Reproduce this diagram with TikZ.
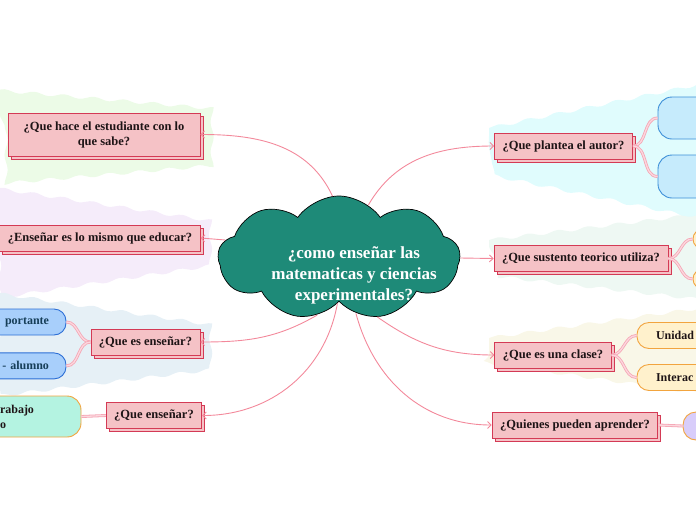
\documentclass[tikz,border=0pt]{standalone}
\usepackage{fontspec}
\setmainfont{Liberation Serif}
\usetikzlibrary{arrows.meta,positioning,calc,shapes.symbols,shadows,decorations.pathmorphing}

\definecolor{cloudteal}{RGB}{30,138,120}
\definecolor{topicfill}{RGB}{245,194,198}
\definecolor{topicline}{RGB}{212,58,85}
\definecolor{linkpink}{RGB}{243,137,155}
\definecolor{subpink}{RGB}{245,165,180}
\definecolor{subpinklt}{RGB}{252,215,222}
\definecolor{bggreen}{RGB}{236,251,231}
\definecolor{bglav}{RGB}{245,236,250}
\definecolor{bgblue}{RGB}{230,240,246}
\definecolor{bgcyan}{RGB}{224,252,253}
\definecolor{bgmint}{RGB}{238,248,243}
\definecolor{bgcream}{RGB}{249,247,232}
\definecolor{bluefill}{RGB}{168,207,251}
\definecolor{blueline}{RGB}{45,111,214}
\definecolor{bluetext}{RGB}{22,62,88}
\definecolor{mintfill}{RGB}{180,243,225}
\definecolor{orangeline}{RGB}{242,164,62}
\definecolor{skyfill}{RGB}{198,235,252}
\definecolor{skyline}{RGB}{61,143,216}
\definecolor{creamfill}{RGB}{255,241,204}
\definecolor{lavfill}{RGB}{216,205,250}
\definecolor{darktext}{RGB}{30,20,22}

\begin{document}
\begin{tikzpicture}[
  x=1pt, y=1pt,
  font=\bfseries\fontsize{12.5}{15}\selectfont,
  link/.style={draw=linkpink, line width=0.9pt, -{Straight Barb[length=3.5pt,width=7pt]}},
  sublink/.style={draw=subpink, double=subpinklt, double distance=1.3pt, line width=0.8pt},
  topic/.style={
    draw=topicline, fill=topicfill, line width=0.9pt, align=center,
    text=darktext, inner xsep=8pt, inner ysep=0pt, minimum height=26pt,
    copy shadow={shadow xshift=3pt, shadow yshift=-3pt}
  },
  subbox/.style={
    draw, line width=0.9pt, rounded corners=12pt, inner xsep=20pt,
    inner ysep=0pt, minimum height=26pt, text=darktext,
    font=\bfseries\fontsize{12}{15}\selectfont
  },
  wedge/.style={decorate, decoration={snake, amplitude=1.6pt, segment length=30pt}}
]
\useasboundingbox (0,0) rectangle (696,-520);
\clip (0,0) rectangle (696,-520);

% Background bands
\fill[bggreen, wedge] (-5,-90) -- (206,-108) -- (206,-162) -- (-5,-180) -- cycle;
\fill[bglav, wedge] (-5,-188) -- (206,-220) -- (206,-258) -- (-5,-290) -- cycle;
\fill[bgblue, wedge] (-5,-293) -- (206,-324) -- (206,-364) -- (-5,-390) -- cycle;
\fill[bgcyan, wedge] (489,-128) -- (701,-84) -- (701,-210) -- (489,-166) -- cycle;
\fill[bgmint, wedge] (489,-240) -- (701,-214) -- (701,-300) -- (489,-276) -- cycle;
\fill[bgcream, wedge] (489,-338) -- (701,-308) -- (701,-402) -- (489,-372) -- cycle;

% Central cloud
\node[cloud, cloud puffs=9, cloud puff arc=110, aspect=2, draw=black, fill=cloudteal,
  line width=0.7pt, minimum width=242pt, minimum height=124pt, inner sep=0pt] (core) at (339,-258) {};
\node[text=white, align=center, font=\bfseries\fontsize{17}{21}\selectfont] (coretext) at (354,-275)
  {¿como enseñar las\\matematicas y ciencias\\experimentales?};

% Topics: left
\node[topic, minimum width=192pt, minimum height=43pt] (estudiante) at (104,-134.5) {¿Que hace el estudiante con lo\\que sabe?};
\node[topic] (educar) at (100,-238) {¿Enseñar es lo mismo que educar?};
\node[topic] (ensenar) at (145.5,-342) {¿Que es enseñar?};
\node[topic] (queensenar) at (154,-415.5) {¿Que enseñar?};

% Topics: right
\node[topic] (autor) at (563.5,-146) {¿Que plantea el autor?};
\node[topic] (sustento) at (581,-258.5) {¿Que sustento teorico utiliza?};
\node[topic] (clase) at (553,-355) {¿Que es una clase?};
\node[topic] (quienes) at (575,-425) {¿Quienes pueden aprender?};

% Subtopics: left
\node[subbox, draw=blueline, fill=bluefill, text=bluetext, inner xsep=17pt, text width=82pt, align=right] (importante) at (8,-322) {portante};
\node[subbox, draw=blueline, fill=bluefill, text=bluetext, inner xsep=17pt, text width=82pt, align=right, below=17pt of importante] (alumno) {- alumno};
\node[subbox, draw=orangeline, fill=mintfill, rounded corners=14pt, inner xsep=30pt, text width=51pt,
  align=left, minimum height=41pt] (trabajo) at (25.5,-416.5) {rabajo\\o};

% Subtopics: right
\node[subbox, draw=skyline, fill=skyfill, rounded corners=14pt, minimum width=102pt, minimum height=42pt] (autorA) at (709,-118) {};
\node[subbox, draw=skyline, fill=skyfill, rounded corners=14pt, minimum width=102pt, minimum height=43pt] (autorB) at (709,-176.5) {};
\node[subbox, draw=orangeline, fill=creamfill, rounded corners=10pt, minimum width=70pt, minimum height=20pt] (sustA) at (728,-239) {};
\node[subbox, draw=orangeline, fill=creamfill, rounded corners=10pt, minimum width=70pt, minimum height=20pt] (sustB) at (728,-279) {};
\node[subbox, draw=orangeline, fill=creamfill, inner xsep=19pt, text width=85pt, align=left] (unidad) at (698.5,-335.5) {Unidad};
\node[subbox, draw=orangeline, fill=creamfill, inner xsep=19pt, text width=85pt, align=left] (interac) at (698.5,-377.5) {Interac};
\node[subbox, draw=orangeline, fill=lavfill, rounded corners=13pt, minimum width=77pt, minimum height=28pt] (aprender) at (721.5,-426) {};

% Main connectors
\draw[link] (core.96) to[out=115,in=0] (estudiante.east);
\draw[link] (core.171) -- (educar.east);
\draw[link] (core.249) to[out=210,in=0] (ensenar.east);
\draw[link] (core.268) to[out=260,in=0] (queensenar.east);
\draw[link] (core.61) to[out=60,in=180] (autor.west);
\draw[link] (core.0) -- (sustento.west);
\draw[link] (core.303) to[out=325,in=180] (clase.west);
\draw[link] (core.287) to[out=285,in=180] (quienes.west);

% Branch connectors
\draw[sublink] (ensenar.west) to[out=180,in=0] (importante.east);
\draw[sublink] (ensenar.west) to[out=180,in=0] (alumno.east);
\draw[sublink] (queensenar.west) -- (trabajo.east);
\draw[sublink] (autor.east) to[out=0,in=180] (autorA.west);
\draw[sublink] (autor.east) to[out=0,in=180] (autorB.west);
\draw[sublink] (sustento.east) to[out=0,in=180] (sustA.west);
\draw[sublink] (sustento.east) to[out=0,in=180] (sustB.west);
\draw[sublink] (clase.east) to[out=0,in=180] (unidad.west);
\draw[sublink] (clase.east) to[out=0,in=180] (interac.west);
\draw[sublink] (quienes.east) -- (aprender.west);

\end{tikzpicture}
\end{document}
